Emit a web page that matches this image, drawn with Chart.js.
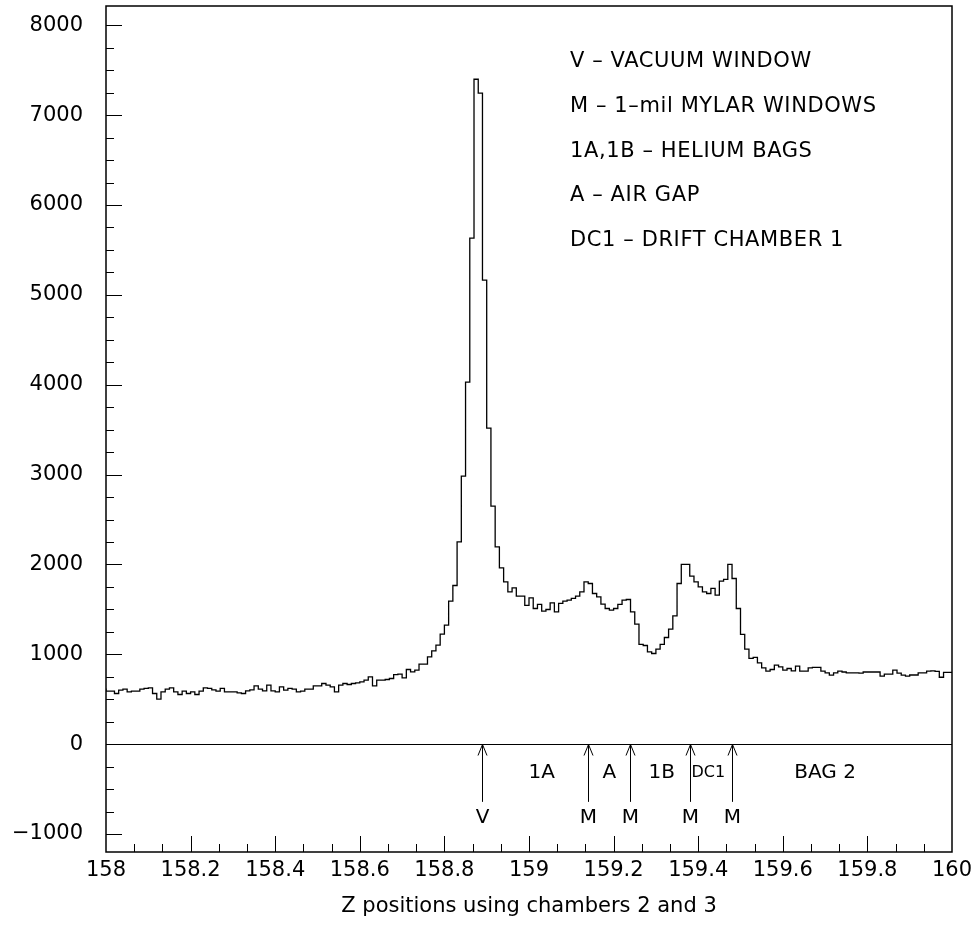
<!DOCTYPE html>
<html>
<head>
<meta charset="utf-8">
<title>Z positions</title>
<script src="https://cdn.jsdelivr.net/npm/chart.js@4.4.1/dist/chart.umd.min.js"></script>
<style>
  html, body { margin: 0; padding: 0; background: #fff; }
  #wrap { width: 975px; height: 939px; }
</style>
</head>
<body>
<div id="wrap"><canvas id="zChart" width="975" height="939"></canvas></div>
<script>
"use strict"

// histogram bins: 200 bins of 0.01 from 158 to 160
const binStart = 158;
const binWidth = 0.01;
const counts = [
    620, 590, 590, 564, 601, 612, 583, 590, 590, 612,
    620, 627, 564, 501, 583, 612, 627, 583, 553, 590,
    564, 583, 553, 590, 627, 620, 605, 590, 620, 583,
    583, 583, 571, 564, 594, 605, 649, 612, 594, 657,
    594, 583, 638, 601, 620, 612, 583, 590, 612, 612,
    649, 649, 675, 657, 638, 583, 657, 675, 664, 675,
    682, 694, 712, 749, 649, 712, 712, 720, 731, 775,
    779, 738, 831, 805, 824, 890, 890, 972, 1038, 1102,
    1224, 1324, 1592, 1766, 2252, 2983, 4029, 5632, 7400, 7245,
    5164, 3517, 2649, 2196, 1962, 1806, 1695, 1740, 1647, 1647,
    1544, 1628, 1510, 1555, 1480, 1499, 1573, 1472, 1566, 1592,
    1603, 1622, 1647, 1695, 1806, 1788, 1677, 1639, 1558, 1510,
    1491, 1510, 1555, 1603, 1610, 1472, 1336, 1110, 1098, 1027,
    1009, 1057, 1110, 1187, 1280, 1428, 1788, 2000, 2000, 1870,
    1806, 1751, 1695, 1677, 1733, 1658, 1814, 1833, 2000, 1844,
    1510, 1221, 1057, 954, 965, 905, 850, 812, 831, 879,
    860, 824, 842, 816, 868, 812, 812, 850, 855, 855,
    812, 794, 768, 794, 812, 803, 794, 794, 794, 790,
    803, 803, 803, 803, 757, 780, 780, 824, 790, 768,
    757, 770, 770, 794, 794, 812, 816, 810, 745, 800
];

// tick labels
const xTickLabels = [158, 158.2, 158.4, 158.6, 158.8, 159, 159.2, 159.4, 159.6, 159.8, 160];
const yTickLabels = [-1000, 0, 1000, 2000, 3000, 4000, 5000, 6000, 7000, 8000];

// arrows below the zero line (windows)
const arrowPos = [158.888, 159.139, 159.239, 159.38, 159.48];
const arrowNames = ["V", "M", "M", "M", "M"];

// regions between the windows
const regionPos = [159.03, 159.19, 159.314, 159.424, 159.70];
const regionNames = ["1A", "A", "1B", "DC1", "BAG 2"];

// key at the top right
const keyLines = [
    "V \u2013 VACUUM WINDOW",
    "M \u2013 1\u2013mil MYLAR WINDOWS",
    "1A,1B \u2013 HELIUM BAGS",
    "A \u2013 AIR GAP",
    "DC1 \u2013 DRIFT CHAMBER 1"
];

const fontFam = "'DejaVu Sans', sans-serif";
const chartEl = document.getElementById("zChart");

//bygger punkterna för trappstegslinjen
const points = counts.map((c, i) => ({ x: binStart + i * binWidth, y: c }));
points.push({ x: binStart + counts.length * binWidth, y: counts[counts.length - 1] });

/**
 * Ritar ram, ticks inåt, nollinjen, pilar och texter.
 */
const overlayPlugin = {
    id: "overlay",
    afterDatasetsDraw(chart) {
        const { ctx, chartArea: a, scales: { x, y } } = chart;
        ctx.save();
        ctx.strokeStyle = "#000";
        ctx.fillStyle = "#000";

        // frame
        ctx.lineWidth = 1.5;
        ctx.strokeRect(a.left, a.top, a.right - a.left, a.bottom - a.top);

        // y ticks, inside, every 250
        ctx.lineWidth = 1;
        ctx.beginPath();
        for (let v = -1000; v <= 8000; v += 250) {
            const py = Math.round(y.getPixelForValue(v)) + 0.5;
            const len = (v % 1000 === 0) ? 16 : 8;
            ctx.moveTo(a.left, py);
            ctx.lineTo(a.left + len, py);
        }
        // x ticks, inside, 3 per label step
        for (let i = 1; i < 30; i++) {
            const v = 158 + i * (2 / 30);
            const px = Math.round(x.getPixelForValue(v)) + 0.5;
            const len = (i % 3 === 0) ? 16 : 8;
            ctx.moveTo(px, a.bottom);
            ctx.lineTo(px, a.bottom - len);
        }
        ctx.stroke();

        // zero line
        const y0 = Math.round(y.getPixelForValue(0)) + 0.5;
        ctx.beginPath();
        ctx.moveTo(a.left, y0);
        ctx.lineTo(a.right, y0);
        ctx.stroke();

        // arrows
        const yEnd = y.getPixelForValue(-642);
        const yLab = y.getPixelForValue(-824);
        ctx.font = "20px " + fontFam;
        ctx.textAlign = "center";
        ctx.textBaseline = "middle";
        arrowPos.forEach((v, i) => {
            const px = Math.round(x.getPixelForValue(v)) + 0.5;
            ctx.beginPath();
            ctx.moveTo(px, y0);
            ctx.lineTo(px, yEnd);
            ctx.moveTo(px - 4.5, y0 + 11);
            ctx.lineTo(px, y0);
            ctx.lineTo(px + 4.5, y0 + 11);
            ctx.stroke();
            ctx.fillText(arrowNames[i], px, yLab);
        });

        // region labels
        const yReg = y.getPixelForValue(-323);
        regionNames.forEach((name, i) => {
            ctx.font = (name === "DC1" ? "16px " : "20px ") + fontFam;
            ctx.fillText(name, x.getPixelForValue(regionPos[i]), yReg);
        });

        // key
        ctx.font = "21px " + fontFam;
        ctx.letterSpacing = "0.6px";
        ctx.textAlign = "left";
        keyLines.forEach((line, i) => {
            ctx.fillText(line, 570, 62 + i * 44.6);
        });

        ctx.restore();
    }
};

new Chart(chartEl, {
    type: "line",
    data: {
        datasets: [{
            data: points,
            stepped: "after",
            borderColor: "#000",
            borderWidth: 1.3,
            pointRadius: 0,
            fill: false
        }]
    },
    options: {
        responsive: false,
        animation: false,
        devicePixelRatio: 1,
        layout: { padding: { top: 6, right: 23, left: 0, bottom: 0 } },
        plugins: {
            legend: { display: false },
            tooltip: { enabled: false }
        },
        scales: {
            x: {
                type: "linear",
                min: 158,
                max: 160,
                afterBuildTicks: (s) => { s.ticks = xTickLabels.map(v => ({ value: v })); },
                afterFit: (s) => {
                    s.height = 87;
                    s.paddingLeft = 0;
                    s.paddingRight = 0;
                },
                grid: { display: false, drawTicks: false },
                border: { display: false },
                ticks: {
                    padding: 6,
                    color: "#000",
                    maxRotation: 0,
                    autoSkip: false,
                    font: { family: fontFam, size: 21 },
                    callback: (v) => String(v)
                },
                title: {
                    display: true,
                    text: "Z positions using chambers 2 and 3",
                    color: "#000",
                    font: { family: fontFam, size: 21 },
                    padding: { top: 0, bottom: 20 }
                }
            },
            y: {
                min: -1200,
                max: 8215,
                afterBuildTicks: (s) => { s.ticks = yTickLabels.map(v => ({ value: v })); },
                afterFit: (s) => {
                    s.width = 106;
                    s.paddingTop = 0;
                    s.paddingBottom = 0;
                },
                grid: { display: false, drawTicks: false },
                border: { display: false },
                ticks: {
                    padding: 23,
                    color: "#000",
                    font: { family: fontFam, size: 21 },
                    callback: (v) => (v < 0 ? "\u2212" + Math.abs(v) : String(v))
                }
            }
        }
    },
    plugins: [overlayPlugin]
});
</script>
</body>
</html>
